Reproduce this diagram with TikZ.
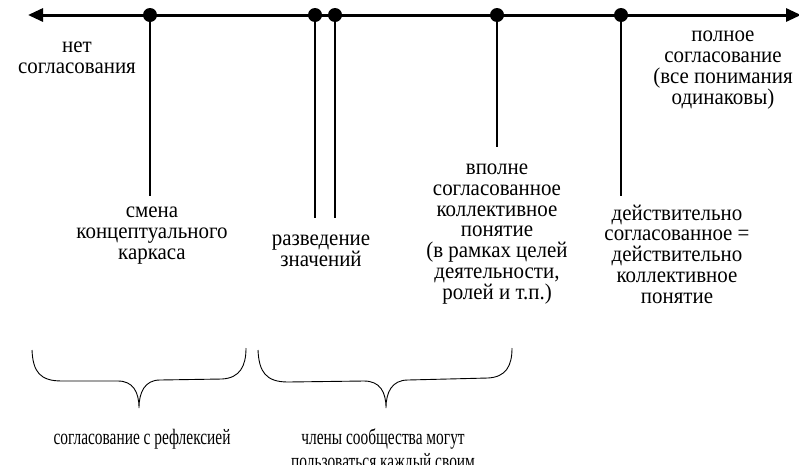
\documentclass[tikz,border=0pt]{standalone}
\usepackage{fontspec}
\setmainfont{Liberation Serif}
\newfontfamily\labelserif{Liberation Serif}[FakeStretch=0.93]
\newfontfamily\narrowserif{Liberation Serif}[FakeStretch=0.7]
\usetikzlibrary{arrows.meta}
\newcommand\toptextfont{\labelserif\fontsize{22.5}{20.7}\selectfont\lineskiplimit=-40pt}
\newcommand\bottomtextfont{\narrowserif\fontsize{22}{20.7}\selectfont\lineskiplimit=-40pt}
\tikzset{point node/.style={circle,fill=black,draw=none,minimum size=14pt,inner sep=0pt},
         text node/.style={align=center,font=\toptextfont,inner sep=0pt,anchor=base},
         brace text/.style={align=center,font=\bottomtextfont,inner sep=0pt,anchor=base},
         axis line/.style={line width=3pt,{Triangle[length=15pt,width=13pt]}-{Triangle[length=15pt,width=13pt]}},
         stick/.style={line width=2.6pt},
         brace line/.style={line width=0.9pt},
            }
\begin{document}
\begin{tikzpicture}[x=1pt,y=-1pt]
    \useasboundingbox (0,0) rectangle (799,464);
    \coordinate (lend) at (28,15);
    \coordinate (rend) at (801,15);
    \draw[axis line] (lend) -- (rend);

    \node[point node] (p1) at (150,15) {};
    \node[point node] (p2) at (315,15) {};
    \node[point node] (p3) at (335,15) {};
    \node[point node] (p4) at (497,15) {};
    \node[point node] (p5) at (621,15) {};

    \coordinate (e1) at (150,196);
    \coordinate (e2) at (315,218);
    \coordinate (e3) at (335,218);
    \coordinate (e4) at (497,147);
    \coordinate (e5) at (621,196);

    \path[draw,stick]
    (p1.center) edge (e1)
    (p2.center) edge (e2)
    (p3.center) edge (e3)
    (p4.center) edge (e4)
    (p5.center) edge (e5)
    ;

    % base anchor = baseline of the last line
    \node[text node] (none) at (77,73) {нет\\согласования};
    \node[text node] (full) at (723,104) {полное\\согласование\\(все понимания\\одинаковы)};
    \node[text node] (frame) at (152,259) {смена\\концептуального\\каркаса};
    \node[text node] (split) at (321,266) {разведение\\значений};
    \node[text node] (agreed) at (497,299) {вполне\\согласованное\\коллективное\\понятие\\(в рамках целей\\деятельности,\\ролей и т.п.)};
    \node[text node] (real) at (677,303) {действительно\\согласованное =\\действительно\\коллективное\\понятие};

    % braces
    \draw[brace line] (32,350) .. controls (33,372) and (40,381) .. (62,381) -- (118,381)
        .. controls (133,381) and (139,392) .. (139,408)
        .. controls (139,392) and (145,380) .. (160,380) -- (222,379)
        .. controls (240,378) and (246,366) .. (246,348);
    \draw[brace line] (258,350) .. controls (259,372) and (266,382) .. (288,382) -- (364,381)
        .. controls (380,381) and (386,392) .. (386,408)
        .. controls (386,392) and (392,380) .. (408,380) -- (488,378)
        .. controls (506,377) and (512,366) .. (512,348);

    \node[brace text] (reflex) at (142,444) {согласование с рефлексией};
    \node[brace text] (members) at (383,468) {члены сообщества могут\\[3pt]пользоваться каждый своим};
\end{tikzpicture}
\end{document}
